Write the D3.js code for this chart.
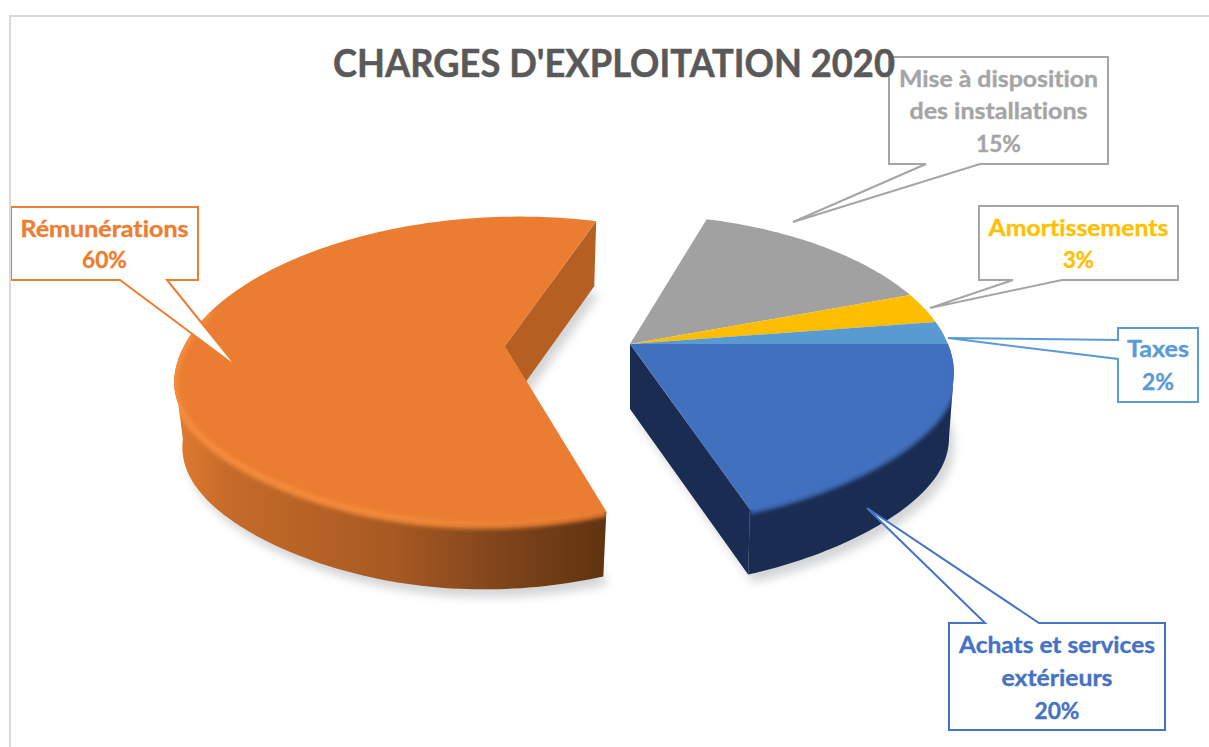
<!DOCTYPE html>
<html lang="fr">
<head>
<meta charset="utf-8">
<title>Charges d'exploitation 2020</title>
<script src="https://cdn.jsdelivr.net/npm/d3@7"></script>
<style>
  html, body { margin: 0; padding: 0; background: #fff; overflow: hidden; }
  text { font-family: Lato, "Open Sans", sans-serif; font-weight: 700; text-anchor: middle; font-variant-ligatures: none; }
</style>
</head>
<body>
<div id="container"></div>
<script>
/* DATA */
const chartTitle = "CHARGES D'EXPLOITATION 2020";
const categories = ["Achats et services extérieurs", "Rémunérations", "Mise à disposition des installations", "Amortissements", "Taxes"];
const shares = [20, 59.6, 14.8, 3.2, 2.4];
const labelLines = [
  ["Achats et services", "extérieurs"],
  ["Rémunérations"],
  ["Mise à disposition", "des installations"],
  ["Amortissements"],
  ["Taxes"]
];

/* CONSTANTS AND GLOBALS */
const width = 1209, height = 747;
const topColors = ["#4170bf", "#ea7d31", "#a1a1a1", "#fdbd00", "#5a9ad3"];
const labelColors = ["#4472c4", "#ed7d31", "#a5a5a5", "#ffc000", "#5b9bd5"];
const boxColors = ["#4472c4", "#ed7d31", "#a5a5a5", "#a5a5a5", "#5b9bd5"];
const pieceOf = [0, 1, 0, 0, 0];
const depth = 65;

// the two parts of the exploded pie, apex + radius + shear of the perspective
const pieces = [
  { ax: 630, ay: 344, rx: 318, shear: 0, wallK: 0.985 },
  { ax: 505, ay: 346, rx: 321, shear: -17, wallK: 0.975 }
];
const ry = 150, px = 0.19, py = 0.159, squeeze = 30;
const sideAngle = Math.asin(px); // where the rim is widest on screen

// callout boxes [x0, y0, x1, y1], pointer [a, tip, b], text baselines and text widths
const callouts = [
  { box: [949, 623, 1165, 730], ptr: [[1039, 623], [867, 508], [985, 623]], base: [653, 686, 719], widths: [196, 111, 45], side: "top" },
  { box: [11, 207, 198, 280], ptr: [[120, 280], [238, 368], [167, 280]], base: [237, 268], widths: [168, 45], side: "bottom" },
  { box: [889, 57, 1108, 164], ptr: [[926, 164], [793, 222], [980, 164]], base: [87, 119, 152], widths: [199, 178, 45], side: "bottom" },
  { box: [979, 206, 1178, 280], ptr: [[1013, 280], [930, 308], [1062, 280]], base: [236, 268], widths: [180, 31], side: "bottom" },
  { box: [1118, 328, 1198, 402], ptr: [[1118, 340], [948, 338], [1118, 359]], base: [357, 390], widths: [62, 32], side: "left" }
];

const svg = d3.select("#container")
  .append("svg")
  .attr("width", width)
  .attr("height", height);

const defs = svg.append("defs");

defs.append("filter").attr("id", "shadowBlur")
  .attr("x", "-10%").attr("y", "-10%").attr("width", "120%").attr("height", "120%")
  .append("feGaussianBlur").attr("stdDeviation", 5);
defs.append("filter").attr("id", "bevelBlur")
  .attr("x", "-5%").attr("y", "-10%").attr("width", "110%").attr("height", "120%")
  .append("feGaussianBlur").attr("stdDeviation", 2);

// orange outer wall goes dark towards the cut
const wallGrad = defs.append("linearGradient").attr("id", "orangeWall")
  .attr("gradientUnits", "userSpaceOnUse")
  .attr("x1", 174).attr("x2", 606).attr("y1", 0).attr("y2", 0);
[[0, "#e27c30"], [0.12, "#c66b2a"], [0.5, "#a85a22"], [0.75, "#80451b"], [1, "#5f3410"]].forEach(([o, c]) =>
  wallGrad.append("stop").attr("offset", o).attr("stop-color", c));

const bevelGrad = defs.append("linearGradient").attr("id", "orangeBevel")
  .attr("gradientUnits", "userSpaceOnUse")
  .attr("x1", 174).attr("x2", 606).attr("y1", 0).attr("y2", 0);
[[0, "#f68c3c"], [0.5, "#f48a3b"], [1, "#e97c30"]].forEach(([o, c]) =>
  bevelGrad.append("stop").attr("offset", o).attr("stop-color", c));

/* PIE LAYOUT */
const arcs = d3.pie().sort(null).value(d => d).startAngle(0).endAngle(2 * Math.PI)(shares);

// angle runs clockwise from east, 3d perspective on the disc
function rimPoint(p, a, drop = 0, k = 1) {
  const X = Math.cos(a), Y = Math.sin(a);
  const front = Y > 0 ? squeeze * (X * Y) * (X * Y) : 0;
  return [
    p.ax + (p.rx * X * k + p.shear * Y) / (1 - px * Y),
    p.ay + ry * Y / (1 - py * Y) - front + drop
  ];
}
const line = d3.line();
const arcPoints = (p, a0, a1, drop = 0, k = 1) => {
  const n = Math.max(2, Math.ceil((a1 - a0) / 0.02));
  return d3.range(n + 1).map(i => rimPoint(p, a0 + (a1 - a0) * i / n, drop, k));
};
const apex = (p, drop = 0) => [p.ax, p.ay + drop];
const facePath = (p, a0, a1, drop = 0, k = 1) =>
  line([apex(p, drop), ...arcPoints(p, a0, a1, drop, k)]) + "Z";

const outerWall = (p, a0, a1) =>
  line([...arcPoints(p, a0, a1), ...arcPoints(p, a0, a1, depth, p.wallK).reverse()]) + "Z";
const cutWall = (p, a) =>
  line([apex(p), rimPoint(p, a), rimPoint(p, a, depth, p.wallK), apex(p, depth)]) + "Z";

const blue = arcs[0], orange = arcs[1];
const right = pieces[0], left = pieces[1];

/* GROUND SHADOW */
const shadows = svg.append("g")
  .attr("fill", "#3a3f4a")
  .attr("opacity", 0.22)
  .attr("filter", "url(#shadowBlur)")
  .attr("transform", "translate(5, 8)");
shadows.append("path")
  .attr("d", facePath(left, orange.startAngle, orange.endAngle, depth, left.wallK));
shadows.append("path")
  .attr("d", facePath(right, arcs[0].startAngle, arcs[0].endAngle, depth, right.wallK));

/* WALLS */
const walls = svg.append("g");
// the cut face of the orange part looking at us
walls.append("path").attr("d", cutWall(left, orange.endAngle)).attr("fill", "#b65f23");
walls.append("path").attr("d", outerWall(left, orange.startAngle, Math.PI - sideAngle)).attr("fill", "url(#orangeWall)");
// the cut face of the blue part
walls.append("path").attr("d", cutWall(right, blue.endAngle)).attr("fill", "#1a2c52");
walls.append("path").attr("d", outerWall(right, sideAngle, blue.endAngle)).attr("fill", "#1a2c52");

/* TOP FACES */
svg.append("g").selectAll("path.slice")
  .data(arcs)
  .join("path")
  .attr("class", "slice")
  .attr("d", d => facePath(pieces[pieceOf[d.index]], d.startAngle, d.endAngle))
  .attr("fill", d => topColors[d.index]);

/* BEVEL ALONG THE FRONT RIM */
const clipLeft = defs.append("clipPath").attr("id", "clipLeft");
clipLeft.append("path").attr("d", facePath(left, orange.startAngle, orange.endAngle));
clipLeft.append("path").attr("d", outerWall(left, orange.startAngle, Math.PI - sideAngle));
const clipRight = defs.append("clipPath").attr("id", "clipRight");
clipRight.append("path").attr("d", facePath(right, blue.startAngle, blue.endAngle));
clipRight.append("path").attr("d", outerWall(right, sideAngle, blue.endAngle));

svg.append("g").attr("clip-path", "url(#clipLeft)")
  .append("path")
  .attr("d", line(arcPoints(left, orange.startAngle, Math.PI * 1.08, 1)))
  .attr("fill", "none")
  .attr("stroke", "url(#orangeBevel)")
  .attr("stroke-width", 7)
  .attr("filter", "url(#bevelBlur)");
svg.append("g").attr("clip-path", "url(#clipRight)")
  .append("path")
  .attr("d", line(arcPoints(right, 0, blue.endAngle, 1)))
  .attr("fill", "none")
  .attr("stroke", topColors[0])
  .attr("stroke-width", 7)
  .attr("filter", "url(#bevelBlur)");

/* CALLOUTS */
function calloutPath(c) {
  const [x0, y0, x1, y1] = c.box, [a, tip, b] = c.ptr;
  const pts = c.side === "top"
    ? [[x0, y0], b, tip, a, [x1, y0], [x1, y1], [x0, y1]]
    : c.side === "left"
      ? [[x0, y0], [x1, y0], [x1, y1], [x0, y1], b, tip, a]
      : [[x0, y0], [x1, y0], [x1, y1], b, tip, a, [x0, y1]];
  return line(pts) + "Z";
}

const labels = svg.append("g").selectAll("g.callout")
  .data(arcs)
  .join("g")
  .attr("class", "callout");

labels.append("path")
  .attr("d", d => calloutPath(callouts[d.index]))
  .attr("fill", "#fff")
  .attr("stroke", d => boxColors[d.index])
  .attr("stroke-width", 2)
  .attr("stroke-linejoin", "miter");

labels.each(function (d) {
  const c = callouts[d.index];
  const lines = [...labelLines[d.index], d3.format(".0f")(d.value) + "%"];
  d3.select(this).selectAll("text")
    .data(lines)
    .join("text")
    .attr("x", (c.box[0] + c.box[2]) / 2)
    .attr("y", (l, i) => c.base[i])
    .attr("font-size", 23)
    .attr("fill", labelColors[d.index])
    .attr("stroke", labelColors[d.index])
    .attr("stroke-width", 0.35)
    .attr("textLength", (l, i) => c.widths[i])
    .attr("lengthAdjust", "spacingAndGlyphs")
    .text(l => l);
});

/* CHART FRAME AND TITLE */
svg.append("path")
  .attr("d", line([[10, height], [10, 16], [width, 16]]))
  .attr("fill", "none")
  .attr("stroke", "#d9d9d9")
  .attr("stroke-width", 2);

svg.append("text")
  .attr("x", 614)
  .attr("y", 77)
  .attr("font-size", 37.5)
  .attr("fill", "#595959")
  .attr("stroke", "#595959")
  .attr("stroke-width", 0.5)
  .attr("textLength", 562)
  .attr("lengthAdjust", "spacingAndGlyphs")
  .text(chartTitle);

console.log("categories", categories);
</script>
</body>
</html>
